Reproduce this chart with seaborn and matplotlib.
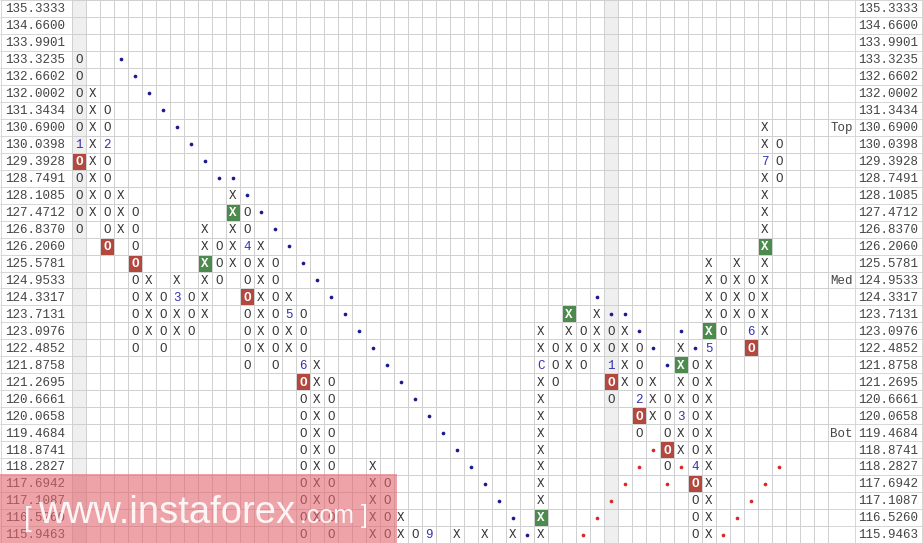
import numpy as np
import pandas as pd
import matplotlib
matplotlib.use('Agg')
import matplotlib.pyplot as plt
from matplotlib.colors import ListedColormap
from matplotlib.patches import Rectangle
import seaborn as sns

# price levels, top to bottom (one row per box)
levels = [135.3333, 134.6600, 133.9901, 133.3235, 132.6602, 132.0002, 131.3434, 130.6900,
          130.0398, 129.3928, 128.7491, 128.1085, 127.4712, 126.8370, 126.2060, 125.5781,
          124.9533, 124.3317, 123.7131, 123.0976, 122.4852, 121.8758, 121.2695, 120.6661,
          120.0658, 119.4684, 118.8741, 118.2827, 117.6942, 117.1087, 116.5260, 115.9463]

# point & figure columns: index, kind, highest box, lowest box
box_cols = [0, 1, 2, 3, 4, 5, 6, 7, 8, 9, 10, 11, 12, 13, 14, 15, 16, 17, 18,
            21, 22, 23, 24, 25, 27, 29, 31,
            33, 34, 35, 36, 37, 38, 39, 40, 41, 42, 43, 44, 45, 46, 47, 48, 49, 50]
box_kind = "OXOXOXOXOXOXOXOXO" + "XO" + "XOXOXXXX" + "XOXOXOXOXOXOXOXOXO"
box_high = [133.3235, 132.0002, 131.3434, 128.1085, 127.4712, 124.9533, 124.3317, 124.9533,
            124.3317, 126.8370, 126.2060, 128.1085, 127.4712, 126.2060, 125.5781, 124.3317,
            123.7131, 121.8758, 121.2695,
            118.2827, 117.6942, 116.5260, 115.9463, 115.9463, 115.9463, 115.9463, 115.9463,
            123.0976, 122.4852, 123.7131, 123.0976, 123.7131, 123.0976, 123.0976, 122.4852,
            121.2695, 120.6661, 122.4852, 121.8758, 125.5781, 124.9533, 125.5781, 124.9533,
            130.6900, 130.0398]
box_low = [126.8370, 127.4712, 126.2060, 126.8370, 122.4852, 123.0976, 122.4852, 123.0976,
           123.0976, 123.7131, 124.9533, 125.5781, 121.8758, 122.4852, 121.8758, 122.4852,
           115.9463, 116.5260, 115.9463,
           115.9463, 115.9463, 115.9463, 115.9463, 115.9463, 115.9463, 115.9463, 115.9463,
           115.9463, 121.2695, 121.8758, 121.8758, 122.4852, 120.6661, 121.2695, 119.4684,
           120.0658, 118.2827, 118.8741, 115.9463, 115.9463, 123.0976, 123.7131, 122.4852,
           123.0976, 128.7491]

# month markers that replace a box
month_cols = [0, 2, 7, 12, 15, 16, 25, 33, 38, 40, 43, 44, 45, 48, 49]
month_prices = [130.0398, 130.0398, 124.3317, 126.2060, 123.7131, 121.8758, 115.9463, 121.8758,
                121.8758, 120.6661, 120.0658, 118.2827, 122.4852, 123.0976, 129.3928]
month_labels = ['1', '2', '3', '4', '5', '6', '9', 'C', '1', '2', '3', '4', '5', '6', '7']

# highlighted boxes
red_cols = [0, 2, 4, 12, 16, 38, 40, 42, 44, 48]
red_prices = [129.3928, 126.2060, 125.5781, 124.3317, 121.2695, 121.2695, 120.0658,
              118.8741, 117.6942, 122.4852]
green_cols = [9, 11, 33, 35, 43, 45, 49]
green_prices = [125.5781, 127.4712, 116.5260, 123.7131, 121.8758, 123.0976, 126.2060]

# trend line dots
blue_dot_cols = [3, 4, 5, 6, 7, 8, 9, 10, 11, 12, 13, 14, 15, 16, 17, 18, 19, 20, 21, 22,
                 23, 24, 25, 26, 27, 28, 29, 30, 31, 32, 37, 38, 39, 40, 41, 42, 43, 44]
blue_dot_prices = [133.3235, 132.6602, 132.0002, 131.3434, 130.6900, 130.0398, 129.3928,
                   128.7491, 128.7491, 128.1085, 127.4712, 126.8370, 126.2060, 125.5781,
                   124.9533, 124.3317, 123.7131, 123.0976, 122.4852, 121.8758, 121.2695,
                   120.6661, 120.0658, 119.4684, 118.8741, 118.2827, 117.6942, 117.1087,
                   116.5260, 115.9463, 124.3317, 123.7131, 123.7131, 123.0976, 122.4852,
                   121.8758, 123.0976, 122.4852]
red_dot_cols = [36, 37, 38, 39, 40, 41, 42, 43, 46, 47, 48, 49, 50]
red_dot_prices = [115.9463, 116.5260, 117.1087, 117.6942, 118.2827, 118.8741, 117.6942,
                  118.2827, 115.9463, 116.5260, 117.1087, 117.6942, 118.2827]

shaded_cols = [0, 38]
zone_labels = ['Top', 'Med', 'Bot']
zone_prices = [130.6900, 124.9533, 119.4684]

n_cols = 54
n_rows = len(levels)
row_of = {p: i for i, p in enumerate(levels)}

# pixel helpers (chart is 923x543, grid starts at x=72, 14 px per column)
cw = 14.0
rh = 543.0 / n_rows
def px_x(px):
    return (px - 72) / cw
def px_y(py):
    return py / rh

sns.set_style('white')
plt.rcParams['font.family'] = ['Liberation Mono', 'DejaVu Sans Mono']

# background cells: 0 white, 1 shaded, 2 red box, 3 green box
grid = np.zeros((n_rows, n_cols))
for c in shaded_cols:
    grid[:, c] = 1
for c, p in zip(red_cols, red_prices):
    grid[row_of[p], c] = 2
for c, p in zip(green_cols, green_prices):
    grid[row_of[p], c] = 3
grid = pd.DataFrame(grid)

fig = plt.figure(figsize=(9.23, 5.43), dpi=100)
ax = fig.add_axes([0, 0, 1, 1])
cmap = ListedColormap(['#ffffff', '#efefef', '#b4483f', '#4d8a4d'])
line_col = '#d0d0d0'
sns.heatmap(grid, cmap=cmap, vmin=-0.5, vmax=3.5, cbar=False, linewidths=0.6,
            linecolor=line_col, xticklabels=False, yticklabels=False, ax=ax)

x_left = px_x(0)
x_right = px_x(923)
x_lab = px_x(855)

# grid lines for the label columns
ax.hlines(np.arange(n_rows + 1), x_left, 0, colors=line_col, lw=0.6)
ax.hlines(np.arange(n_rows + 1), n_cols, x_right, colors=line_col, lw=0.6)
ax.vlines([x_left + 0.05, x_lab, x_right - 0.05], 0, n_rows, colors=line_col, lw=0.6)

# boxes
month_map = {(c, row_of[p]): m for c, p, m in zip(month_cols, month_prices, month_labels)}
hi_set = set((c, row_of[p]) for c, p in zip(red_cols, red_prices)) | \
         set((c, row_of[p]) for c, p in zip(green_cols, green_prices))
for c, k, hi, lo in zip(box_cols, box_kind, box_high, box_low):
    for r in range(row_of[hi], row_of[lo] + 1):
        if (c, r) in month_map:
            ax.text(c + 0.5, r + 0.55, month_map[(c, r)], ha='center', va='center',
                    fontsize=9, color='#3333b0')
        elif (c, r) in hi_set:
            ax.text(c + 0.5, r + 0.55, k, ha='center', va='center', fontsize=9,
                    color='white', fontweight='bold')
        else:
            ax.text(c + 0.5, r + 0.55, k, ha='center', va='center', fontsize=9, color='#333333')

# trend dots
sns.scatterplot(x=np.array(blue_dot_cols) + 0.5, y=[row_of[p] + 0.5 for p in blue_dot_prices],
                color='#1a1a8a', s=7, linewidth=0, legend=False, ax=ax)
sns.scatterplot(x=np.array(red_dot_cols) + 0.5, y=[row_of[p] + 0.5 for p in red_dot_prices],
                color='#d42a2a', s=7, linewidth=0, legend=False, ax=ax)

# price labels
for i, p in enumerate(levels):
    ax.text(px_x(5), i + 0.55, '%.4f' % p, ha='left', va='center', fontsize=9, color='#444444')
    ax.text(px_x(858), i + 0.55, '%.4f' % p, ha='left', va='center', fontsize=9, color='#444444')
for lab, p in zip(zone_labels, zone_prices):
    ax.text(px_x(853), row_of[p] + 0.55, lab, ha='right', va='center', fontsize=9, color='#444444')

# watermark
ax.add_patch(Rectangle((x_left, px_y(474)), px_x(397) - x_left, n_rows - px_y(474),
                       facecolor='#e3666e', alpha=0.6, edgecolor='none', zorder=5))
ax.text(px_x(24), px_y(526), '[', fontsize=20, color='white', family='Liberation Sans',
        va='baseline', ha='left', zorder=6, alpha=0.9)
ax.text(px_x(38), px_y(523), 'www.instaforex', fontsize=27.5, color='white',
        family='Liberation Sans', va='baseline', ha='left', zorder=6, alpha=0.9)
ax.text(px_x(300), px_y(523), '.com ]', fontsize=18, color='white',
        family='Liberation Sans', va='baseline', ha='left', zorder=6, alpha=0.9)

ax.set_xlim(x_left, x_right)
ax.set_ylim(n_rows, 0)
ax.set_xlabel('')
ax.set_ylabel('')
ax.set_xticks([])
ax.set_yticks([])
for s in ax.spines.values():
    s.set_visible(False)

fig.savefig('out.png', dpi=100)
